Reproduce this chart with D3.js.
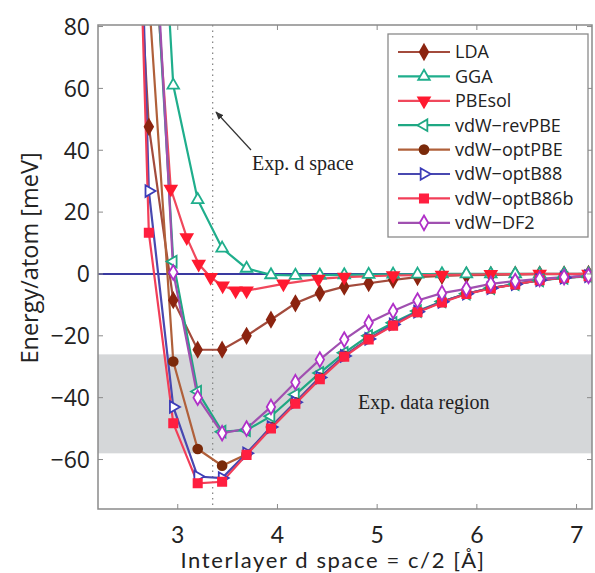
<!DOCTYPE html>
<html>
<head>
<meta charset="utf-8">
<script src="https://cdn.jsdelivr.net/npm/d3@7"></script>
<style>
  html, body { margin: 0; padding: 0; background: #fff; }
  svg { display: block; }
</style>
</head>
<body>
<svg id="chart" width="595" height="573"></svg>
<script>
// ---------- data ----------
const xGrid = [2.465, 2.71, 2.955, 3.2, 3.445, 3.69, 3.935, 4.18, 4.425, 4.67, 4.915, 5.16, 5.405, 5.65, 5.895, 6.14, 6.385, 6.63, 6.875, 7.12];
const pbesolX = [2.71, 2.93, 3.09, 3.21, 3.33, 3.45, 3.58, 3.69, 4.06, 4.41, 4.67, 5.16, 5.65, 6.14, 6.63, 7.12];

const ldaVals     = [190, 47.6, -8.5, -24.5, -24.5, -20, -14.8, -9.5, -6.2, -4.1, -3.0, -1.9, -1.0, -0.6, -0.4, -0.3, -0.2, -0.1, -0.1, 0];
const ggaVals     = [400, 200, 61, 24, 8.3, 1.8, -0.3, -0.5, -0.4, -0.3, -0.2, -0.1, -0.1, 0, 0, 0, 0, 0, 0, 0];
const pbesolVals  = [130, 27.5, 11.8, 3.2, -1.1, -3.8, -5.4, -5.4, -3.2, -1.6, -1.0, -0.5, -0.3, -0.1, 0, 0];
const revPBEVals  = [400, 140, 4, -38, -51, -50.5, -46, -39, -32, -25.5, -20, -15.8, -12, -8.9, -6.4, -4.6, -3.3, -2.1, -1.3, -0.8];
const optPBEVals  = [350, 90, -28.3, -56.6, -62, -58.3, -49.5, -41.5, -33.5, -26.5, -21, -16.5, -12.3, -9, -6.4, -4.6, -3.3, -2, -1.2, -0.7];
const optB88Vals  = [300, 26.8, -43, -65.5, -66, -58, -49.5, -41.5, -33.5, -26.5, -21, -16.3, -12.2, -9, -6.4, -4.6, -3.3, -2, -1.2, -0.7];
const optB86bVals = [280, 13.3, -48.3, -67.7, -67.2, -58.5, -50, -42, -34, -26.8, -21.2, -16.7, -12.4, -9.2, -6.5, -4.7, -3.4, -2.0, -1.2, -0.7];
const df2Vals     = [400, 150, 0.5, -40, -51.5, -50, -43, -35, -27.7, -21.2, -15.8, -12, -8.6, -6.2, -4.8, -3.2, -2.3, -1.6, -1.0, -0.6];

const seriesNames = ["LDA", "GGA", "PBEsol", "vdW\u2212revPBE", "vdW\u2212optPBE", "vdW\u2212optB88", "vdW\u2212optB86b", "vdW\u2212DF2"];
const xTicks = [3, 4, 5, 6, 7];
const yTicks = [-60, -40, -20, 0, 20, 40, 60, 80];
const expDSpace = 3.35;
const expRegion = [-58, -26];

// ---------- styles ----------
const styles = [
  { x: xGrid,   y: ldaVals,     line: "#a34b3c", stroke: "#8c2410", fill: "#8c2410", shape: "diamond", rot: 0 },
  { x: xGrid,   y: ggaVals,     line: "#1fae8c", stroke: "#1fae8c", fill: "#fff",    shape: "triangle", rot: 0 },
  { x: pbesolX, y: pbesolVals,  line: "#f0485c", stroke: "#ff1a30", fill: "#ff1a30", shape: "triangle", rot: 180 },
  { x: xGrid,   y: revPBEVals,  line: "#1fa883", stroke: "#1fa883", fill: "#fff",    shape: "triangle", rot: -90 },
  { x: xGrid,   y: optPBEVals,  line: "#b0603a", stroke: "#7a2a0a", fill: "#7a2a0a", shape: "circle", rot: 0 },
  { x: xGrid,   y: optB88Vals,  line: "#4848b0", stroke: "#3c3cb8", fill: "#fff",    shape: "triangle", rot: 90 },
  { x: xGrid,   y: optB86bVals, line: "#f23e58", stroke: "#ff1f40", fill: "#ff1f40", shape: "square", rot: 0 },
  { x: xGrid,   y: df2Vals,     line: "#a050b0", stroke: "#b030c8", fill: "#fff",    shape: "diamond", rot: 0 }
];

const svg = d3.select("#chart");
const L = 98, R = 592, T = 25, B = 509;
const x = d3.scaleLinear().domain([2.2, 7.155]).range([L, R]);
const y = d3.scaleLinear().domain([-76, 80.5]).range([B, T]);

svg.append("defs").append("clipPath").attr("id", "clip")
  .append("rect").attr("x", L).attr("y", T).attr("width", R - L).attr("height", B - T);

// shaded experimental region
svg.append("rect")
  .attr("x", L).attr("width", R - L)
  .attr("y", y(expRegion[1])).attr("height", y(expRegion[0]) - y(expRegion[1]))
  .attr("fill", "#d5d7d9");

// dotted experimental d line
svg.append("line")
  .attr("x1", x(expDSpace)).attr("x2", x(expDSpace))
  .attr("y1", T).attr("y2", B)
  .attr("stroke", "#888").attr("stroke-width", 1.3).attr("stroke-dasharray", "1.5,4");

// zero line
svg.append("line")
  .attr("x1", L).attr("x2", R).attr("y1", y(0)).attr("y2", y(0))
  .attr("stroke", "#3a3aa0").attr("stroke-width", 2);

function symPath(s, size) {
  let t;
  if (s === "diamond") t = d3.symbolDiamond;
  else if (s === "triangle") t = d3.symbolTriangle;
  else if (s === "circle") t = d3.symbolCircle;
  else t = d3.symbolSquare;
  return d3.symbol().type(t).size(size)();
}
function symSize(s) {
  if (s === "diamond") return 62;
  if (s === "triangle") return 58;
  if (s === "circle") return 62;
  return 68;
}

const plotG = svg.append("g").attr("clip-path", "url(#clip)");
const lineGen = d3.line().x(d => x(d[0])).y(d => y(d[1]));

styles.forEach((st, i) => {
  const pts = st.x.map((xv, j) => [xv, st.y[j]]);
  plotG.append("path").datum(pts)
    .attr("d", lineGen).attr("fill", "none")
    .attr("stroke", st.line).attr("stroke-width", 2.2);
});
styles.forEach((st, i) => {
  const pts = st.x.map((xv, j) => [xv, st.y[j]]);
  plotG.selectAll(null).data(pts).enter().append("path")
    .attr("d", symPath(st.shape, symSize(st.shape)))
    .attr("transform", d => `translate(${x(d[0])},${y(d[1])}) rotate(${st.rot})`)
    .attr("fill", st.fill).attr("stroke", st.stroke).attr("stroke-width", 1.8);
});

// frame
svg.append("rect").attr("x", L).attr("y", T).attr("width", R - L).attr("height", B - T)
  .attr("fill", "none").attr("stroke", "#8a8a8a").attr("stroke-width", 1.5);

// ticks (inward)
const tickCol = "#8a8a8a";
xTicks.forEach(t => {
  svg.append("line").attr("x1", x(t)).attr("x2", x(t)).attr("y1", B).attr("y2", B - 5).attr("stroke", tickCol);
  svg.append("line").attr("x1", x(t)).attr("x2", x(t)).attr("y1", T).attr("y2", T + 5).attr("stroke", tickCol);
  svg.append("text").attr("x", x(t)).attr("y", 543).attr("text-anchor", "middle")
    .attr("font-family", "Lato, sans-serif").attr("font-size", 23).attr("fill", "#222").text(t);
});
const fmt = d3.format("");
yTicks.forEach(t => {
  svg.append("line").attr("x1", L).attr("x2", L + 5).attr("y1", y(t)).attr("y2", y(t)).attr("stroke", tickCol);
  svg.append("line").attr("x1", R).attr("x2", R - 5).attr("y1", y(t)).attr("y2", y(t)).attr("stroke", tickCol);
  svg.append("text").attr("x", 90).attr("y", y(t)).attr("dy", "0.36em").attr("text-anchor", "end")
    .attr("font-family", "Open Sans, sans-serif").attr("font-size", 23).attr("fill", "#222").text(fmt(t));
});

// axis titles
svg.append("text").attr("x", 333).attr("y", 568).attr("text-anchor", "middle")
  .attr("font-family", "Lato, sans-serif").attr("font-size", 22).attr("letter-spacing", 1.6).attr("fill", "#222")
  .text("Interlayer d space = c/2 [Å]");
svg.append("text").attr("transform", "translate(38,258) rotate(-90)").attr("text-anchor", "middle")
  .attr("font-family", "Open Sans, sans-serif").attr("font-size", 23.5).attr("fill", "#222")
  .text("Energy/atom [meV]");

// annotations
svg.append("text").attr("x", 252).attr("y", 170)
  .attr("font-family", "Liberation Serif, serif").attr("font-size", 20).attr("fill", "#222")
  .text("Exp. d space");
svg.append("defs").append("marker").attr("id", "arrow").attr("viewBox", "0 0 10 10")
  .attr("refX", 9).attr("refY", 5).attr("markerWidth", 7).attr("markerHeight", 7).attr("orient", "auto")
  .append("path").attr("d", "M0,1 L10,5 L0,9 z").attr("fill", "#333");
svg.append("line").attr("x1", 251).attr("y1", 150).attr("x2", 216).attr("y2", 112)
  .attr("stroke", "#333").attr("stroke-width", 1.2).attr("marker-end", "url(#arrow)");
svg.append("text").attr("x", 358).attr("y", 409)
  .attr("font-family", "Liberation Serif, serif").attr("font-size", 20).attr("fill", "#222")
  .text("Exp. data region");

// legend
const lg = svg.append("g");
lg.append("rect").attr("x", 388).attr("y", 34).attr("width", 200).attr("height", 203)
  .attr("fill", "#fff").attr("stroke", "#8a8a8a").attr("stroke-width", 1.3);
styles.forEach((st, i) => {
  const yy = 52 + i * 24.4;
  lg.append("line").attr("x1", 398).attr("x2", 450).attr("y1", yy).attr("y2", yy)
    .attr("stroke", st.line).attr("stroke-width", 2.2);
  lg.append("path").attr("d", symPath(st.shape, symSize(st.shape)))
    .attr("transform", `translate(424,${yy}) rotate(${st.rot})`)
    .attr("fill", st.fill).attr("stroke", st.stroke).attr("stroke-width", 1.8);
  lg.append("text").attr("x", 455).attr("y", yy).attr("dy", "0.36em")
    .attr("font-family", "Open Sans, sans-serif").attr("font-size", 18).attr("fill", "#222")
    .text(seriesNames[i]);
});
</script>
</body>
</html>
